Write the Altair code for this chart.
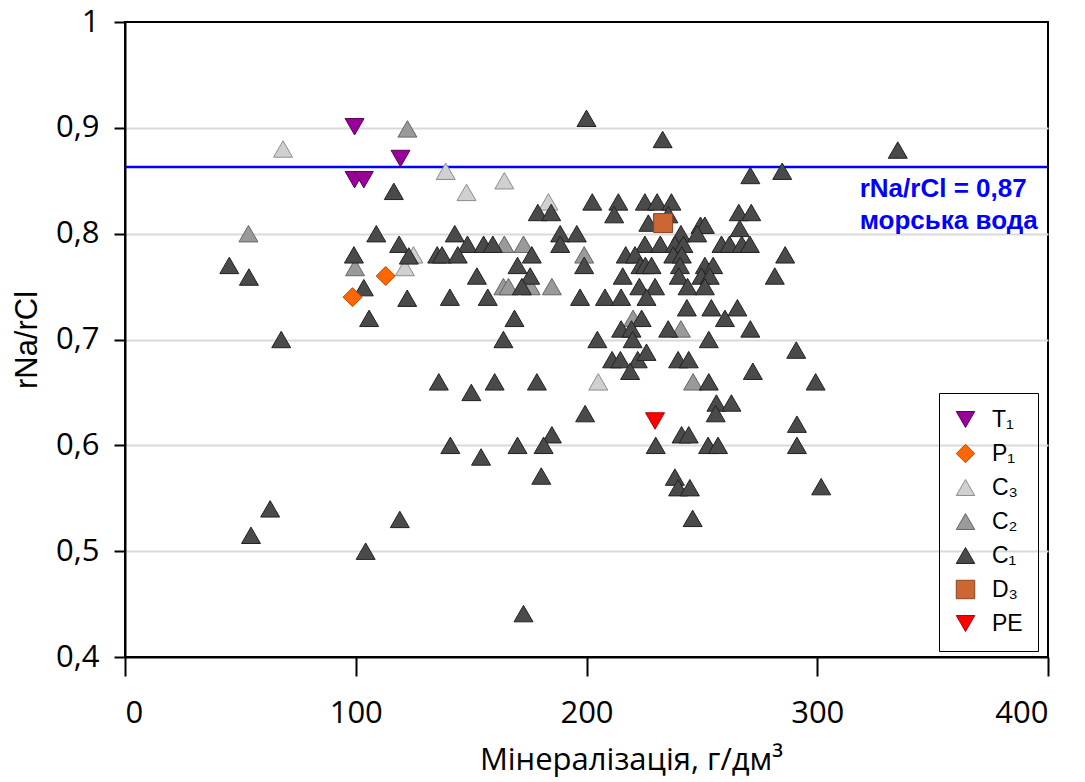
import altair as alt
import pandas as pd

# ---------------- data ----------------
legend_order = ["T₁", "P₁", "C₃", "C₂", "C₁", "D₃", "PE"]
draw_order = ["C₃", "C₂", "C₁", "T₁", "P₁", "D₃", "PE"]

t1_x = [99.5, 119.4, 99.5, 103.5]
t1_y = [0.901, 0.871, 0.851, 0.851]

p1_x = [98.6, 113.0]
p1_y = [0.740, 0.760]

c3_x = [68.5, 139.0, 148.0, 164.4, 183.5, 121.3, 125.0, 205.1]
c3_y = [0.880, 0.859, 0.839, 0.850, 0.830, 0.768, 0.780, 0.660]

c2_x = [53.5, 122.4, 99.7, 164.4, 172.7, 199.0, 164.0, 166.2, 175.8, 185.0, 220.2, 240.9, 246.2]
c2_y = [0.800, 0.899, 0.768, 0.790, 0.790, 0.780, 0.750, 0.750, 0.750, 0.750, 0.720, 0.710, 0.660]

c1_x = [116.5, 108.9, 118.8, 99.2, 123.0, 135.3, 45.2, 53.7, 103.5, 122.3, 105.8, 67.7, 140.8,
        200.0, 233.0, 271.0, 202.5, 213.8, 225.3, 230.6, 236.8, 178.9, 184.7, 212.0, 266.0, 271.4,
        226.8, 235.5, 249.4, 251.3, 266.4, 142.9, 188.6, 195.8, 240.9, 248.0,
        148.4, 155.4, 159.4, 188.6, 225.3, 232.0, 238.3, 242.0, 258.5, 262.0, 267.3, 270.8,
        137.4, 144.2, 176.3, 217.0, 221.0, 237.6, 241.3,
        170.1, 199.0, 223.4, 225.5, 228.2, 240.5, 251.3, 254.9,
        152.5, 175.6, 215.7, 240.0, 249.8, 253.4,
        172.0, 222.9, 229.7, 243.8, 251.3,
        157.2, 197.2, 208.0, 215.0, 226.0,
        243.5, 254.1, 265.4,
        260.0, 168.8, 223.9,
        215.0, 219.5, 235.4, 271.0,
        164.0, 204.7, 220.0, 253.0,
        211.1, 214.7, 222.2, 226.0, 239.7, 244.3, 218.9, 272.1,
        136.0, 160.2, 178.5, 253.0, 150.1, 256.3, 262.8, 256.0, 199.4,
        185.0, 241.2, 244.3, 141.0, 170.1, 181.4, 230.0, 252.7, 257.0,
        154.3, 180.4, 238.3, 239.7, 244.8, 246.0, 172.7,
        62.9, 54.6, 104.3, 119.1,
        334.9, 284.8, 286.1, 281.6, 290.9, 299.3, 291.2, 291.2, 301.7]
c1_y = [0.840, 0.800, 0.790, 0.780, 0.779, 0.780, 0.770, 0.759, 0.749, 0.739, 0.720, 0.700, 0.740,
        0.909, 0.889, 0.855, 0.830, 0.830, 0.830, 0.830, 0.830, 0.820, 0.820, 0.818, 0.820, 0.820,
        0.810, 0.818, 0.808, 0.808, 0.805, 0.800, 0.800, 0.800, 0.800, 0.800,
        0.790, 0.790, 0.790, 0.790, 0.790, 0.790, 0.790, 0.790, 0.790, 0.790, 0.790, 0.790,
        0.780, 0.780, 0.780, 0.780, 0.780, 0.780, 0.780,
        0.770, 0.770, 0.770, 0.770, 0.770, 0.770, 0.770, 0.770,
        0.760, 0.760, 0.760, 0.760, 0.760, 0.760,
        0.750, 0.750, 0.750, 0.750, 0.750,
        0.740, 0.740, 0.740, 0.740, 0.740,
        0.730, 0.730, 0.730,
        0.720, 0.720, 0.720,
        0.710, 0.710, 0.710, 0.710,
        0.700, 0.700, 0.700, 0.700,
        0.681, 0.681, 0.681, 0.688, 0.681, 0.681, 0.670, 0.670,
        0.660, 0.660, 0.660, 0.660, 0.650, 0.640, 0.640, 0.630, 0.630,
        0.610, 0.610, 0.610, 0.600, 0.600, 0.600, 0.600, 0.600, 0.600,
        0.589, 0.571, 0.570, 0.560, 0.560, 0.531, 0.441,
        0.540, 0.515, 0.500, 0.530,
        0.879, 0.859, 0.780, 0.760, 0.690, 0.660, 0.620, 0.600, 0.561]

d3_x = [233.2]
d3_y = [0.810]

pe_x = [229.7]
pe_y = [0.623]

seawater_ratio = 0.863
note_lines = ["rNa/rCl = 0,87", "морська вода"]
note_x = [318.4, 318.4]
note_y = [0.842, 0.812]

x_ticks = [0, 100, 200, 300, 400]
y_ticks = [0.4, 0.5, 0.6, 0.7, 0.8, 0.9, 1.0]

# ---------------- styling ----------------
fills = ["#990099", "#ff6600", "#d0d0d0", "#9a9a9a", "#4a4a4a", "#cc6633", "#ff0000"]
strokes = ["#5a005a", "#b04800", "#8c8c8c", "#666666", "#222222", "#8a4420", "#b00000"]
shapes = ["triangle-down", "diamond", "triangle-up", "triangle-up", "triangle-up", "square", "triangle-down"]

series = {
    "T₁": (t1_x, t1_y), "P₁": (p1_x, p1_y), "C₃": (c3_x, c3_y), "C₂": (c2_x, c2_y),
    "C₁": (c1_x, c1_y), "D₃": (d3_x, d3_y), "PE": (pe_x, pe_y),
}
rows = []
for z, name in enumerate(draw_order):
    xs, ys = series[name]
    for xv, yv in zip(xs, ys):
        rows.append({"x": xv, "y": yv, "series": name, "z": z})
df = pd.DataFrame(rows)

legend = alt.Legend(
    title=None, orient="none", legendX=814, legendY=371,
    strokeColor="black", padding=15, rowPadding=10,
    symbolSize=340, symbolStrokeWidth=1, labelOffset=15,
    labelFont="Liberation Sans", labelFontSize=23, labelColor="black",
)

xscale = alt.Scale(domain=[0, 400], nice=False)
yscale = alt.Scale(domain=[0.4, 1.0], nice=False, zero=False)

x_axis = alt.Axis(
    values=x_ticks, grid=False, tickSize=19, tickWidth=2, tickColor="black",
    domainColor="black", domainWidth=2,
    labelFont="Open Sans", labelFontSize=31, labelColor="black", labelPadding=22,
    title="Мінералізація, г/дм³", titleFont="Open Sans", titleFontSize=31,
    titleFontWeight="normal", titleColor="black",
    titleX=506, titleY=112, titleAlign="center", titleBaseline="alphabetic",
)
y_axis = alt.Axis(
    values=y_ticks, grid=True, gridColor="#d9d9d9", gridWidth=2,
    gridOpacity=alt.condition("datum.value < 0.45 || datum.value > 0.95", alt.value(0), alt.value(1)),
    tickSize=11, tickWidth=2, tickColor="black",
    domainColor="black", domainWidth=2,
    labelFont="Open Sans", labelFontSize=31, labelColor="black", labelPadding=15,
    labelExpr="datum.value > 0.95 ? '1' : replace(format(datum.value, '.1f'), '.', ',')",
    title="rNa/rCl", titleFont="Liberation Sans", titleFontSize=31,
    titleFontWeight="normal", titleColor="black",
    titleX=-89, titleBaseline="alphabetic",
)

points = alt.Chart(df).mark_point(filled=True, size=360, strokeWidth=1, opacity=1).encode(
    x=alt.X("x:Q", scale=xscale, axis=x_axis),
    y=alt.Y("y:Q", scale=yscale, axis=y_axis),
    fill=alt.Fill("series:N", scale=alt.Scale(domain=legend_order, range=fills), legend=legend),
    stroke=alt.Stroke("series:N", scale=alt.Scale(domain=legend_order, range=strokes), legend=legend),
    shape=alt.Shape("series:N", scale=alt.Scale(domain=legend_order, range=shapes), legend=legend),
    order=alt.Order("z:Q"),
)

rule = alt.Chart(pd.DataFrame({"y": [seawater_ratio]})).mark_rule(
    color="#0000ff", strokeWidth=2.5
).encode(y=alt.Y("y:Q", scale=yscale, axis=y_axis))

note = alt.Chart(pd.DataFrame({"x": note_x, "y": note_y, "t": note_lines})).mark_text(
    align="left", baseline="middle", font="Liberation Sans", fontWeight="bold",
    fontSize=26, color="#0000ff"
).encode(
    x=alt.X("x:Q", scale=xscale, axis=x_axis),
    y=alt.Y("y:Q", scale=yscale, axis=y_axis),
    text="t:N",
)

chart = alt.layer(rule, points, note).properties(
    width=923, height=635,
    padding={"left": 125, "top": 22, "right": 37, "bottom": 125},
    autosize=alt.AutoSizeParams(type="none"),
    background="white",
).configure_view(stroke="black", strokeWidth=2)

chart.save("out.html", embed_options={"renderer": "svg", "actions": False})
